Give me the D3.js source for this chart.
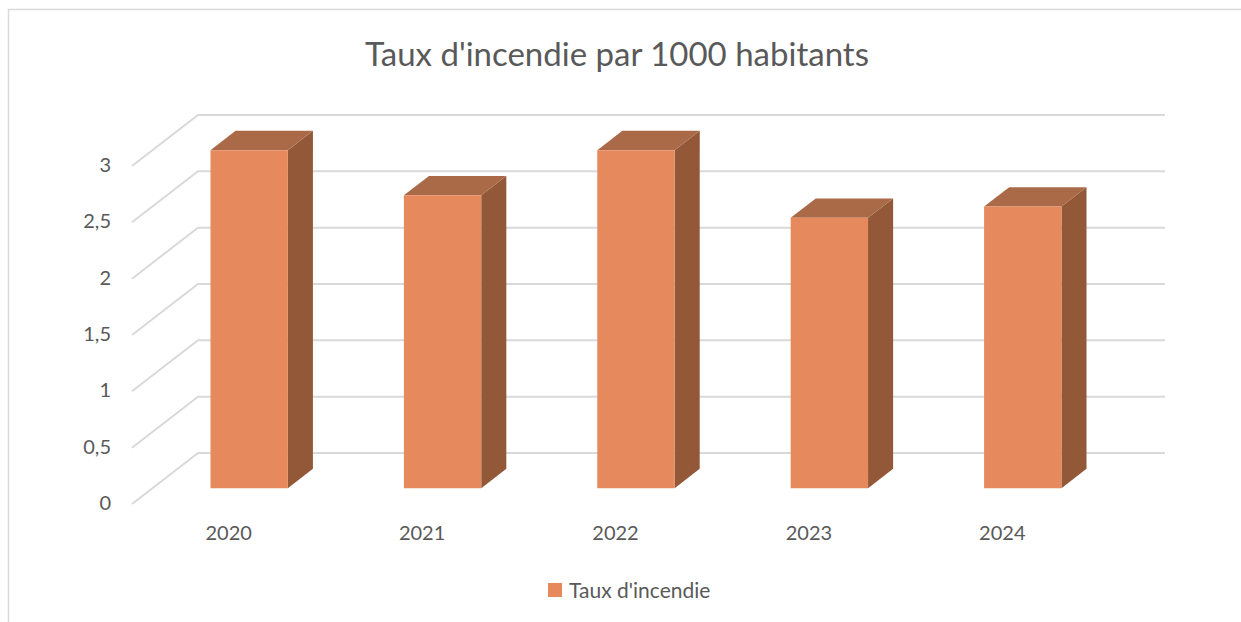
<!DOCTYPE html>
<html lang="fr">
<head>
    <meta charset="UTF-8">
    <title>Taux d'incendie par 1000 habitants</title>
    <script src="https://d3js.org/d3.v7.min.js"></script>
    <style>
        body {
            margin: 0;
            background: #ffffff;
            font-family: Lato, "Open Sans", sans-serif;
        }

        .grid {
            stroke: #d9d9d9;
            stroke-width: 2px;
            fill: none;
        }

        .tick-label, .cat-label, .legend-label, .title {
            fill: #595959;
        }
    </style>
</head>
<body>

<svg id="chart" width="1241" height="622"></svg>

<script>
    // Podaci
    const years = ["2020", "2021", "2022", "2023", "2024"];
    const rates = [3.0, 2.6, 3.0, 2.4, 2.5];
    const yTicks = [0, 0.5, 1, 1.5, 2, 2.5, 3];
    const seriesName = "Taux d'incendie";
    const chartTitle = "Taux d'incendie par 1000 habitants";

    const W = 1241, H = 622;

    // Dubina 3D (kosa projekcija)
    const DX = 66, DY = 51;
    const zFront = 0.31, zBack = 0.69;

    const colors = { front: "#e68a5e", top: "#ab6a47", side: "#925838" };

    const svg = d3.select("#chart");

    // Okvir
    svg.append("rect")
       .attr("x", 8.5).attr("y", 9.5)
       .attr("width", W).attr("height", H)
       .attr("fill", "none")
       .attr("stroke", "#d9d9d9")
       .attr("stroke-width", 1.5);

    // Skale (prednja ravnina poda)
    const x = d3.scaleBand()
                .domain(years)
                .range([132, 1099])
                .paddingInner(0)
                .paddingOuter(0);

    const y = d3.scaleLinear()
                .domain([0, 3])
                .range([504, 166]);

    const proj = (px, py, z) => [px + z * DX, py - z * DY];
    const fmt = d => String(d).replace(".", ",");

    // Mreža: lijevi zid i stražnji zid
    const grid = svg.append("g");
    yTicks.forEach(t => {
        const a = proj(x.range()[0], y(t), 0);
        const b = proj(x.range()[0], y(t), 1);
        const c = proj(x.range()[1], y(t), 1);
        grid.append("polyline")
            .attr("class", "grid")
            .attr("points", [a, b, c].map(p => p.join(",")).join(" "));
    });

    // Oznake Y osi
    svg.append("g").selectAll("text")
       .data(yTicks)
       .join("text")
       .attr("class", "tick-label")
       .attr("x", 111)
       .attr("y", d => y(d) - 2)
       .attr("text-anchor", "end")
       .attr("dominant-baseline", "central")
       .style("font-size", "20px")
       .text(fmt);

    // Oznake kategorija
    svg.append("g").selectAll("text")
       .data(years)
       .join("text")
       .attr("class", "cat-label")
       .attr("x", d => x(d) + x.bandwidth() / 2)
       .attr("y", 540)
       .attr("text-anchor", "middle")
       .style("font-size", "20px")
       .text(d => d);

    // Stupci
    const barW = x.bandwidth() * 0.4;
    const bars = svg.append("g");
    years.forEach((yr, i) => {
        const x0 = x(yr) + (x.bandwidth() - barW) / 2;
        const x1 = x0 + barW;
        const yt = y(rates[i]);
        const yb = y(0);
        const pts = arr => arr.map(p => p.join(",")).join(" ");
        const g = bars.append("g");

        g.append("polygon")
         .attr("points", pts([proj(x1, yt, zFront), proj(x1, yt, zBack), proj(x1, yb, zBack), proj(x1, yb, zFront)]))
         .attr("fill", colors.side);

        g.append("polygon")
         .attr("points", pts([proj(x0, yt, zFront), proj(x1, yt, zFront), proj(x1, yt, zBack), proj(x0, yt, zBack)]))
         .attr("fill", colors.top);

        g.append("polygon")
         .attr("points", pts([proj(x0, yt, zFront), proj(x1, yt, zFront), proj(x1, yb, zFront), proj(x0, yb, zFront)]))
         .attr("fill", colors.front);
    });

    // Naslov
    svg.append("text")
       .attr("class", "title")
       .attr("x", 617)
       .attr("y", 66)
       .attr("text-anchor", "middle")
       .style("font-size", "33px")
       .text(chartTitle);

    // Legenda
    const legend = svg.append("g");
    legend.append("rect")
          .attr("x", 548).attr("y", 583)
          .attr("width", 14).attr("height", 14)
          .attr("fill", colors.front);
    legend.append("text")
          .attr("class", "legend-label")
          .attr("x", 569)
          .attr("y", 598)
          .style("font-size", "21px")
          .text(seriesName);
</script>

</body>
</html>
